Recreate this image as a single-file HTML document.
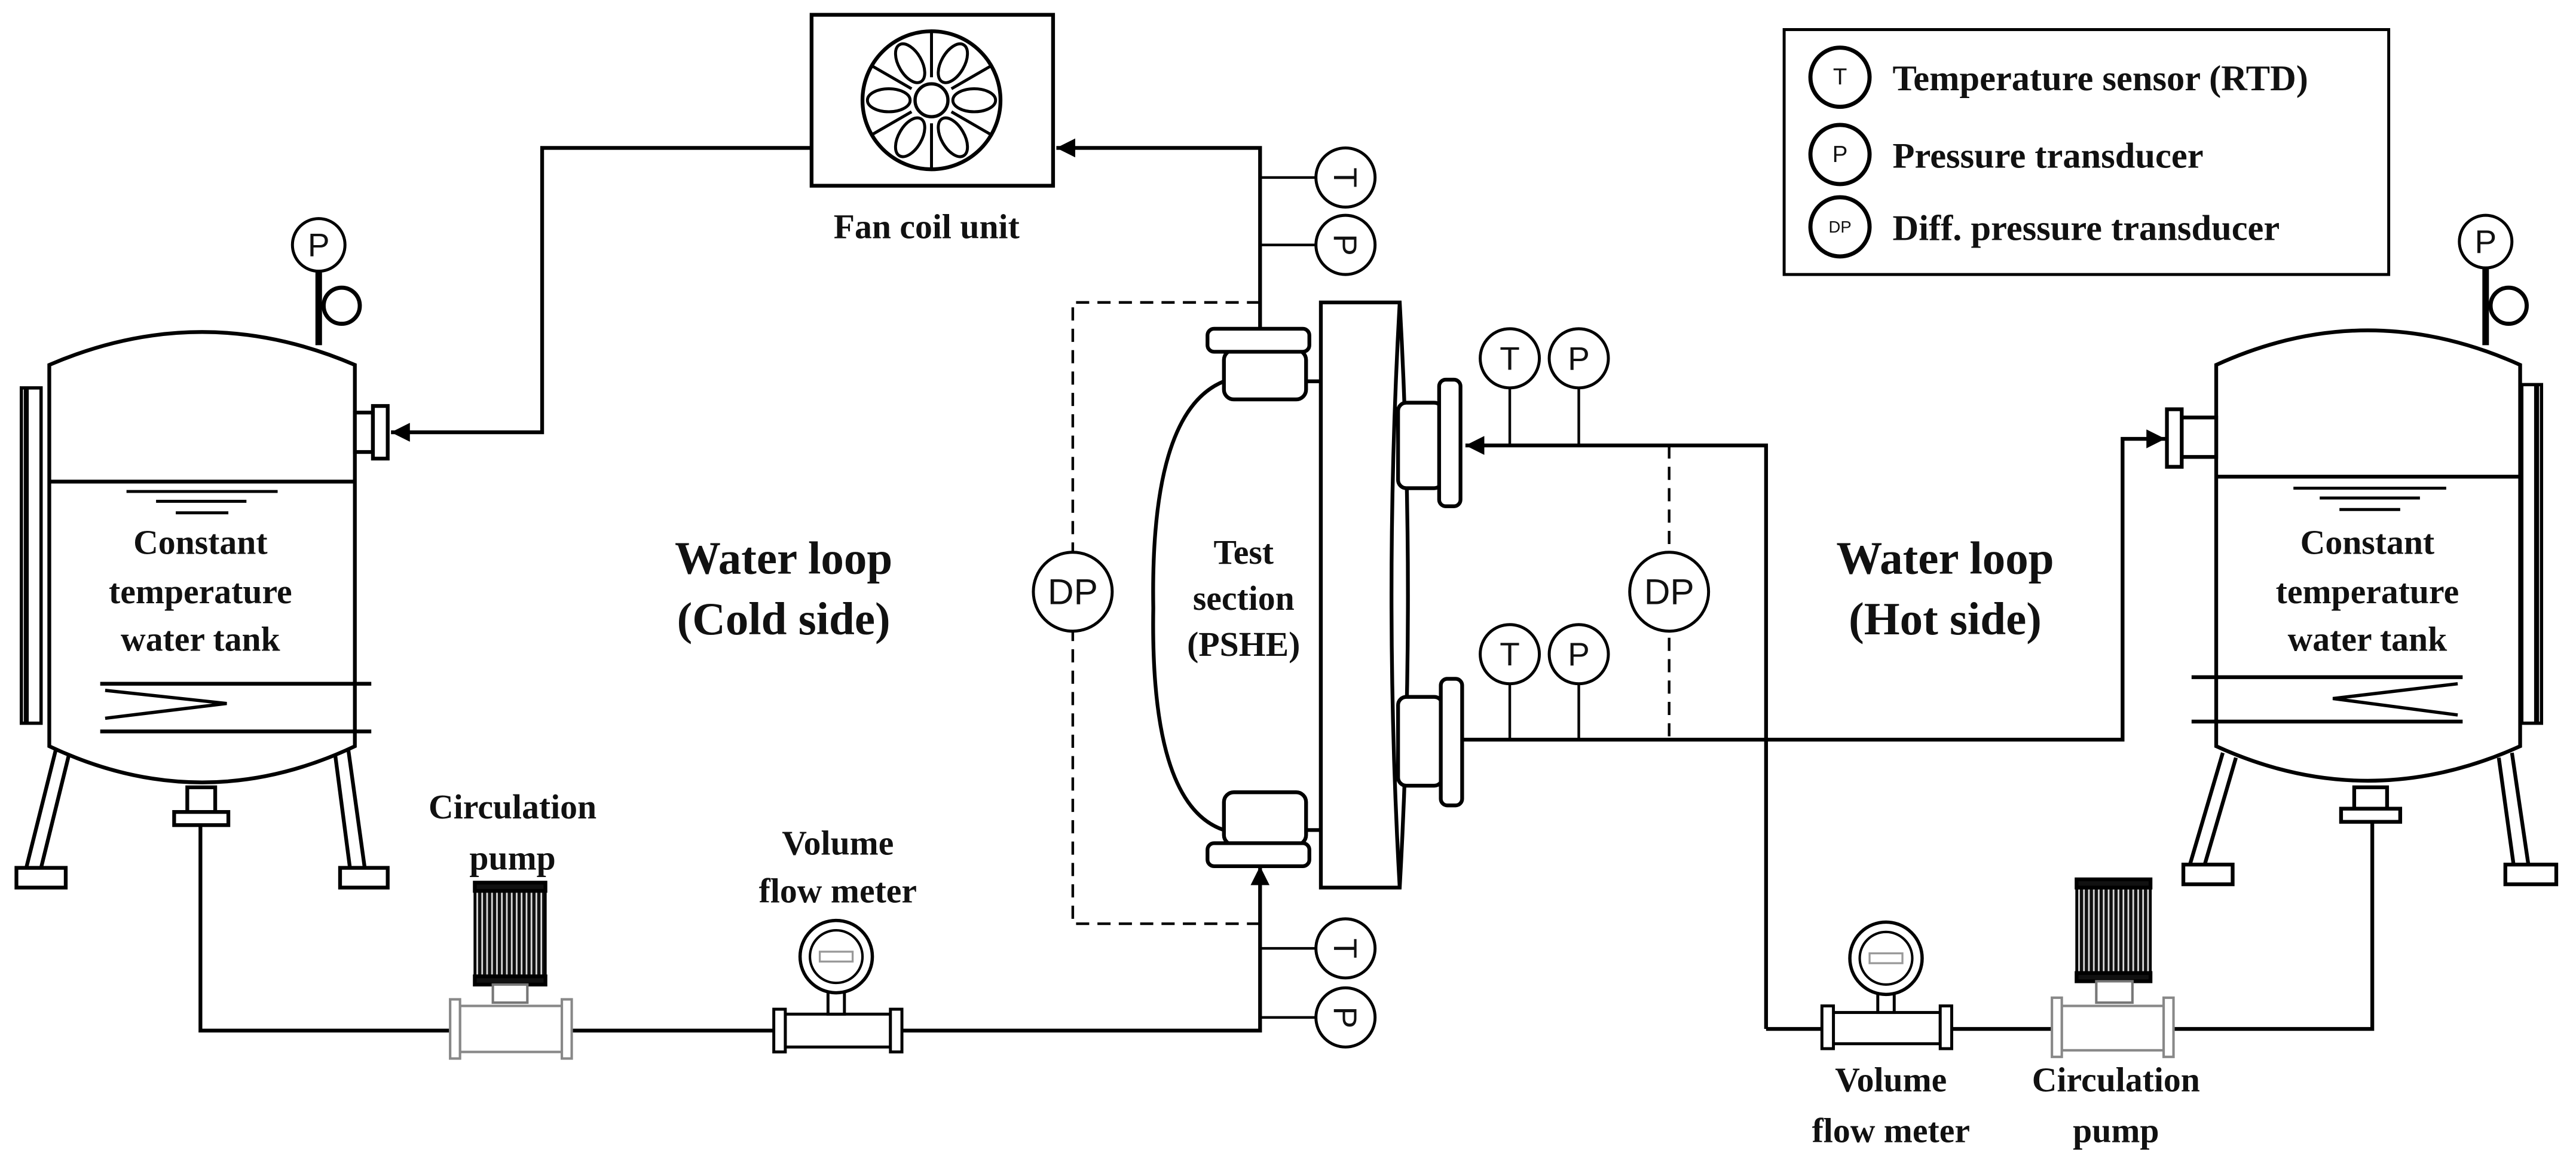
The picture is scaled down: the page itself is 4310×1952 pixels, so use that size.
<!DOCTYPE html>
<html><head><meta charset="utf-8"><style>
html,body{margin:0;padding:0;background:#fff;}
svg{display:block;}
.b{font-family:"Liberation Serif",serif;font-weight:bold;fill:#111;text-anchor:middle;}
.s{font-family:"Liberation Sans",sans-serif;fill:#111;text-anchor:middle;dominant-baseline:central;}
</style></head><body>
<svg width="4310" height="1952" viewBox="0 0 1568 710" preserveAspectRatio="none" xmlns="http://www.w3.org/2000/svg">
<defs>
<marker id="ar" viewBox="0 0 10 10" refX="10" refY="5" markerWidth="5" markerHeight="5" orient="auto"><path d="M0,0 L10,5 L0,10 z" fill="#000"/></marker>
<pattern id="st" width="3" height="10" patternUnits="userSpaceOnUse"><rect width="3" height="10" fill="#111"/><rect x="2" width="1" height="10" fill="#ddd"/></pattern>
</defs>
<g fill="none" stroke="#000" stroke-width="2.3">
<rect x="494" y="9" width="147" height="104" fill="#fff"/>
<circle cx="567" cy="61" r="42"/>
<circle cx="567" cy="61" r="10" stroke-width="2"/>
<g stroke-width="1.8">
<g transform="translate(567,61)">
<ellipse cx="26" cy="0" rx="13" ry="7"/>
<ellipse cx="26" cy="0" rx="13" ry="7" transform="rotate(60)"/>
<ellipse cx="26" cy="0" rx="13" ry="7" transform="rotate(120)"/>
<ellipse cx="26" cy="0" rx="13" ry="7" transform="rotate(180)"/>
<ellipse cx="26" cy="0" rx="13" ry="7" transform="rotate(240)"/>
<ellipse cx="26" cy="0" rx="13" ry="7" transform="rotate(300)"/>
<line x1="14" y1="0" x2="41" y2="0" transform="rotate(30)"/>
<line x1="14" y1="0" x2="41" y2="0" transform="rotate(90)"/>
<line x1="14" y1="0" x2="41" y2="0" transform="rotate(150)"/>
<line x1="14" y1="0" x2="41" y2="0" transform="rotate(210)"/>
<line x1="14" y1="0" x2="41" y2="0" transform="rotate(270)"/>
<line x1="14" y1="0" x2="41" y2="0" transform="rotate(330)"/>
</g></g>
<polyline points="494,90 330,90 330,263 238,263" marker-end="url(#ar)"/>
<polyline points="767,200 767,90 643,90" marker-end="url(#ar)"/>
<polyline points="122,502 122,627 767,627 767,527" marker-end="url(#ar)"/>
<polyline points="767,184 653,184 653,562 767,562" stroke-dasharray="8,5" stroke-width="1.6"/>
<line x1="767" y1="108" x2="801" y2="108" stroke-width="1.6"/>
<line x1="767" y1="149" x2="801" y2="149" stroke-width="1.6"/>
<line x1="767" y1="577" x2="801" y2="577" stroke-width="1.6"/>
<line x1="767" y1="619" x2="801" y2="619" stroke-width="1.6"/>
<path d="M30,222 Q123,182 216,222 L216,454 Q123,498 30,454 Z" fill="#fff"/>
<line x1="30" y1="293" x2="216" y2="293"/>
<line x1="77" y1="299" x2="169" y2="299" stroke-width="1.8"/>
<line x1="95" y1="305" x2="150" y2="305" stroke-width="1.8"/>
<line x1="107" y1="312" x2="139" y2="312" stroke-width="1.8"/>
<rect x="13" y="236" width="12" height="204" stroke-width="2"/>
<line x1="16" y1="236" x2="16" y2="440" stroke-width="3"/>
<line x1="61" y1="416" x2="226" y2="416"/>
<line x1="61" y1="445" x2="226" y2="445"/>
<path d="M64,420 L138,428 L64,437" stroke-width="2"/>
<rect x="216" y="251" width="11" height="24" fill="#fff"/>
<rect x="227" y="247" width="9" height="32" fill="#fff"/>
<line x1="194" y1="165" x2="194" y2="210" stroke-width="4"/>
<circle cx="208" cy="186" r="11" stroke-width="2.5"/>
<circle cx="194" cy="149" r="16" fill="#fff" stroke-width="1.8"/>
<line x1="34" y1="456" x2="16" y2="528"/><line x1="42" y1="459" x2="25" y2="528"/>
<line x1="204" y1="459" x2="213" y2="528"/><line x1="212" y1="456" x2="222" y2="528"/>
<rect x="10" y="528" width="30" height="12" fill="#fff"/>
<rect x="207" y="528" width="29" height="12" fill="#fff"/>
<rect x="114" y="479" width="17" height="15" fill="#fff"/>
<rect x="106" y="494" width="33" height="8" fill="#fff"/>
<rect x="289" y="537" width="43" height="62" fill="url(#st)" stroke-width="1.5"/>
<rect x="289" y="537" width="43" height="5" fill="#111"/>
<rect x="289" y="594" width="43" height="5" fill="#111"/>
<rect x="300" y="599" width="21" height="11" stroke="#777" fill="#fff" stroke-width="1.5"/>
<rect x="280" y="612" width="62" height="28" stroke="#888" fill="#fff" stroke-width="1.5"/>
<rect x="274" y="608" width="6" height="36" stroke="#888" fill="#fff" stroke-width="1.5"/>
<rect x="342" y="608" width="6" height="36" stroke="#888" fill="#fff" stroke-width="1.5"/>
<rect x="478" y="617" width="64" height="20" fill="#fff" stroke-width="1.8"/>
<rect x="471" y="614" width="7" height="26" fill="#fff" stroke-width="1.8"/>
<rect x="542" y="614" width="7" height="26" fill="#fff" stroke-width="1.8"/>
<rect x="504" y="603" width="10" height="14" fill="#fff" stroke-width="1.8"/>
<circle cx="509" cy="582" r="22" fill="#fff" stroke-width="2"/>
<circle cx="509" cy="582" r="16" stroke-width="1.5"/>
<rect x="499" y="579" width="20" height="6" stroke="#999" stroke-width="1.2"/>
<path d="M745,232 Q700,250 702,370 Q700,490 745,505 L804,505 L804,232 Z" fill="#fff"/>
<rect x="745" y="213" width="50" height="30" rx="6" fill="#fff"/>
<rect x="735" y="200" width="62" height="14" rx="4" fill="#fff"/>
<rect x="745" y="482" width="50" height="32" rx="6" fill="#fff"/>
<rect x="735" y="513" width="62" height="14" rx="4" fill="#fff"/>
<path d="M804,184 L852,184 Q862,362 852,540 L804,540 Z" fill="#fff"/>
<path d="M852,184 Q842,362 852,540"/>
<rect x="851" y="245" width="27" height="52" rx="5" fill="#fff"/>
<rect x="876" y="231" width="13" height="77" rx="4" fill="#fff"/>
<rect x="851" y="424" width="27" height="54" rx="5" fill="#fff"/>
<rect x="877" y="413" width="13" height="77" rx="4" fill="#fff"/>
<polyline points="1075,626 1075,271 892,271" marker-end="url(#ar)"/>
<polyline points="890,450 1292,450 1292,267 1318,267" marker-end="url(#ar)"/>
<line x1="1016" y1="271" x2="1016" y2="450" stroke-dasharray="8,5" stroke-width="1.6"/>
<line x1="919" y1="236" x2="919" y2="271" stroke-width="1.6"/>
<line x1="961" y1="236" x2="961" y2="271" stroke-width="1.6"/>
<line x1="919" y1="416" x2="919" y2="450" stroke-width="1.6"/>
<line x1="961" y1="416" x2="961" y2="450" stroke-width="1.6"/>
<polyline points="1444,500 1444,626 1075,626"/>
<path d="M1349,222 Q1441,180 1534,222 L1534,454 Q1441,496 1349,454 Z" fill="#fff"/>
<line x1="1349" y1="290" x2="1534" y2="290"/>
<line x1="1396" y1="297" x2="1489" y2="297" stroke-width="1.8"/>
<line x1="1412" y1="303" x2="1473" y2="303" stroke-width="1.8"/>
<line x1="1424" y1="310" x2="1461" y2="310" stroke-width="1.8"/>
<rect x="1535" y="234" width="12" height="206" stroke-width="2"/>
<line x1="1544" y1="234" x2="1544" y2="440" stroke-width="3"/>
<line x1="1334" y1="412" x2="1499" y2="412"/>
<line x1="1334" y1="439" x2="1499" y2="439"/>
<path d="M1496,416 L1420,425 L1496,435" stroke-width="2"/>
<rect x="1328" y="254" width="21" height="24" fill="#fff"/>
<rect x="1319" y="249" width="9" height="35" fill="#fff"/>
<line x1="1513" y1="163" x2="1513" y2="210" stroke-width="4"/>
<circle cx="1527" cy="186" r="11" stroke-width="2.5"/>
<circle cx="1513" cy="147" r="16" fill="#fff" stroke-width="1.8"/>
<line x1="1353" y1="458" x2="1333" y2="526"/><line x1="1361" y1="461" x2="1342" y2="526"/>
<line x1="1521" y1="461" x2="1530" y2="526"/><line x1="1529" y1="458" x2="1539" y2="526"/>
<rect x="1329" y="526" width="30" height="12" fill="#fff"/>
<rect x="1525" y="526" width="31" height="12" fill="#fff"/>
<rect x="1433" y="479" width="20" height="13" fill="#fff"/>
<rect x="1425" y="492" width="36" height="8" fill="#fff"/>
<rect x="1264" y="535" width="45" height="62" fill="url(#st)" stroke-width="1.5"/>
<rect x="1264" y="535" width="45" height="5" fill="#111"/>
<rect x="1264" y="592" width="45" height="5" fill="#111"/>
<rect x="1276" y="597" width="22" height="13" stroke="#777" fill="#fff" stroke-width="1.5"/>
<rect x="1255" y="612" width="62" height="27" stroke="#888" fill="#fff" stroke-width="1.5"/>
<rect x="1249" y="607" width="6" height="36" stroke="#888" fill="#fff" stroke-width="1.5"/>
<rect x="1317" y="607" width="6" height="36" stroke="#888" fill="#fff" stroke-width="1.5"/>
<rect x="1116" y="616" width="65" height="19" fill="#fff" stroke-width="1.8"/>
<rect x="1109" y="612" width="7" height="26" fill="#fff" stroke-width="1.8"/>
<rect x="1181" y="612" width="7" height="26" fill="#fff" stroke-width="1.8"/>
<rect x="1143" y="603" width="10" height="13" fill="#fff" stroke-width="1.8"/>
<circle cx="1148" cy="583" r="22" fill="#fff" stroke-width="2"/>
<circle cx="1148" cy="583" r="16" stroke-width="1.5"/>
<rect x="1138" y="580" width="20" height="6" stroke="#999" stroke-width="1.2"/>
<g fill="#fff" stroke-width="1.8">
<circle cx="819" cy="108" r="18"/><circle cx="819" cy="149" r="18"/>
<circle cx="819" cy="577" r="18"/><circle cx="819" cy="619" r="18"/>
<circle cx="919" cy="218" r="18"/><circle cx="961" cy="218" r="18"/>
<circle cx="919" cy="398" r="18"/><circle cx="961" cy="398" r="18"/>
<circle cx="653" cy="360" r="24"/><circle cx="1016" cy="360" r="24"/>
</g>
<rect x="1086" y="18" width="368" height="149" stroke-width="1.8" fill="#fff"/>
<circle cx="1120" cy="47" r="18" stroke-width="2.5"/>
<circle cx="1120" cy="94" r="18" stroke-width="2.5"/>
<circle cx="1120" cy="138" r="18" stroke-width="2.5"/>
</g>
<g class="s" font-size="20">
<text x="819" y="108" transform="rotate(90 819 108)">T</text>
<text x="819" y="149" transform="rotate(90 819 149)">P</text>
<text x="819" y="577" transform="rotate(90 819 577)">T</text>
<text x="819" y="619" transform="rotate(90 819 619)">P</text>
<text x="919" y="218">T</text><text x="961" y="218">P</text>
<text x="919" y="398">T</text><text x="961" y="398">P</text>
<text x="194" y="149">P</text><text x="1513" y="147">P</text>
<text x="653" y="360" font-size="22">DP</text><text x="1016" y="360" font-size="22">DP</text>
<text x="1120" y="47" font-size="14">T</text>
<text x="1120" y="94" font-size="14">P</text>
<text x="1120" y="138" font-size="10">DP</text>
</g>
<g class="b" font-size="21">
<text x="564" y="145">Fan coil unit</text>
<text x="122" y="337">Constant</text>
<text x="122" y="367">temperature</text>
<text x="122" y="396">water tank</text>
<text x="1441" y="337">Constant</text>
<text x="1441" y="367">temperature</text>
<text x="1441" y="396">water tank</text>
<text x="312" y="498">Circulation</text>
<text x="312" y="529">pump</text>
<text x="510" y="520">Volume</text>
<text x="510" y="549">flow meter</text>
<text x="1151" y="664">Volume</text>
<text x="1151" y="695">flow meter</text>
<text x="1288" y="664">Circulation</text>
<text x="1288" y="695">pump</text>
<text x="757" y="343">Test</text>
<text x="757" y="371">section</text>
<text x="757" y="399">(PSHE)</text>
<text x="477" y="349" font-size="28">Water loop</text>
<text x="477" y="386" font-size="28">(Cold side)</text>
<text x="1184" y="349" font-size="28">Water loop</text>
<text x="1184" y="386" font-size="28">(Hot side)</text>
<text x="1152" y="55" font-size="22" style="text-anchor:start">Temperature sensor (RTD)</text>
<text x="1152" y="102" font-size="22" style="text-anchor:start">Pressure transducer</text>
<text x="1152" y="146" font-size="22" style="text-anchor:start">Diff. pressure transducer</text>
</g>
</svg>
</body></html>
